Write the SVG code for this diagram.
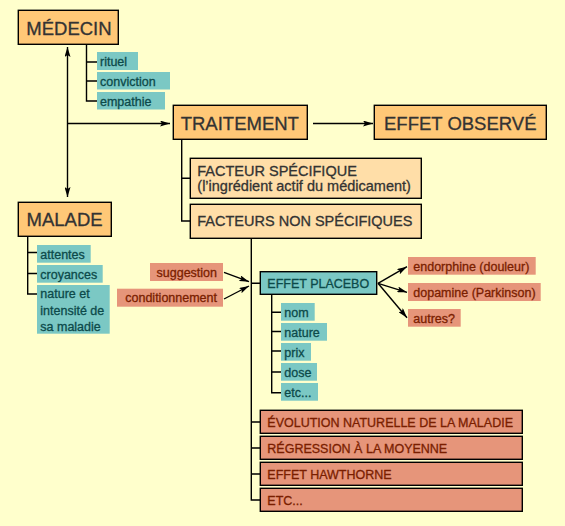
<svg xmlns="http://www.w3.org/2000/svg" width="565" height="526" viewBox="0 0 565 526">
<style>
text{font-family:"Liberation Sans",Arial,sans-serif;stroke-width:0.3}
.main{fill:#FFC877;stroke:#000;stroke-width:1.4}
.light{fill:#FFDEA8;stroke:#000;stroke-width:1.4}
.red{fill:#E6957A;stroke:#000;stroke-width:1.4}
.redl{fill:#E6957A}
.teal{fill:#7BC8C4}
.tealb{fill:#7BC8C4;stroke:#000;stroke-width:1.4}
.tm{font-size:18.5px;fill:#333;stroke:#333}
.tf{font-size:14.5px;fill:#333;stroke:#333}
.tr{font-size:12.5px;fill:#7A1E00;stroke:#7A1E00}
.tt{font-size:12.5px;fill:#0C4A4A;stroke:#0C4A4A}
.ln{fill:none;stroke:#000;stroke-width:1.4}
</style>
<defs>
<marker id="arr" viewBox="0 0 10 6" refX="10" refY="3" markerWidth="10" markerHeight="6" orient="auto-start-reverse" markerUnits="userSpaceOnUse">
<path d="M0,0 L10,3 L0,6 L2,3 z" fill="#000"/>
</marker>
</defs>
<rect width="565" height="526" fill="#FFFFCC"/>

<g id="connectors">
<line class="ln" x1="67.5" y1="47" x2="67.5" y2="197" marker-start="url(#arr)" marker-end="url(#arr)"/>
<line class="ln" x1="67.5" y1="123.5" x2="170" y2="123.5" marker-end="url(#arr)"/>
<line class="ln" x1="313" y1="123.5" x2="373" y2="123.5" marker-end="url(#arr)"/>
<path class="ln" d="M86.5,44 V101 H97 M86.5,62 H97 M86.5,81 H97"/>
<path class="ln" d="M181.7,139 V221 H190 M181.7,178.3 H190"/>
<path class="ln" d="M27.7,236 V294 H37 M27.7,252.5 H37 M27.7,273.5 H37"/>
<path class="ln" d="M251.3,238 V500 H260 M251.3,283.3 H260 M251.3,422 H260 M251.3,448 H260 M251.3,474 H260"/>
<path class="ln" d="M271.7,294 V392.7 H281 M271.7,312.3 H281 M271.7,331.5 H281 M271.7,351 H281 M271.7,372 H281"/>
<line class="ln" x1="224" y1="272.3" x2="249" y2="281.7" marker-end="url(#arr)"/>
<line class="ln" x1="224" y1="299" x2="249" y2="286" marker-end="url(#arr)"/>
<line class="ln" x1="378" y1="283.3" x2="407" y2="266.7" marker-end="url(#arr)"/>
<line class="ln" x1="378" y1="283.3" x2="407" y2="292.3" marker-end="url(#arr)"/>
<line class="ln" x1="378" y1="283.3" x2="407" y2="317.7" marker-end="url(#arr)"/>
</g>

<g id="medecin"><rect class="main" x="18.3" y="10.3" width="100" height="34"/><text class="tm" x="26.3" y="35">MÉDECIN</text></g>
<g id="rituel"><rect class="teal" x="97" y="52" width="41" height="18"/><text class="tt" x="100" y="66">rituel</text></g>
<g id="conviction"><rect class="teal" x="97" y="72" width="73" height="17.5"/><text class="tt" x="100" y="85.5">conviction</text></g>
<g id="empathie"><rect class="teal" x="97" y="92" width="68" height="17.5"/><text class="tt" x="100" y="105.5">empathie</text></g>

<g id="traitement"><rect class="main" x="173.3" y="105.3" width="134" height="34"/><text class="tm" x="180.7" y="129.5">TRAITEMENT</text></g>
<g id="effet-observe"><rect class="main" x="374.3" y="105.3" width="172" height="34"/><text class="tm" x="384" y="129.5">EFFET OBSERVÉ</text></g>

<g id="facteur-specifique"><rect class="light" x="190.3" y="158.3" width="231" height="40"/><text class="tf" x="197.3" y="176">FACTEUR SPÉCIFIQUE</text><text class="tf" x="197.3" y="191">(l’ingrédient actif du médicament)</text></g>
<g id="facteurs-non-specifiques"><rect class="light" x="190.3" y="204.3" width="231" height="34"/><text class="tf" x="197.3" y="226">FACTEURS NON SPÉCIFIQUES</text></g>

<g id="malade"><rect class="main" x="18.3" y="202.3" width="93" height="34"/><text class="tm" x="26.5" y="226">MALADE</text></g>
<g id="attentes"><rect class="teal" x="37" y="245" width="53.7" height="17.7"/><text class="tt" x="40.3" y="258.8">attentes</text></g>
<g id="croyances"><rect class="teal" x="37" y="265" width="65.7" height="17.7"/><text class="tt" x="40.3" y="278.8">croyances</text></g>
<g id="nature-intensite"><rect class="teal" x="37" y="285" width="72.7" height="48.7"/><text class="tt" x="40.3" y="298.3">nature et</text><text class="tt" x="40.3" y="314.5">intensité de</text><text class="tt" x="40.3" y="330.5">sa maladie</text></g>

<g id="suggestion"><rect class="redl" x="150" y="263" width="73" height="18"/><text class="tr" x="217" y="276.5" text-anchor="end">suggestion</text></g>
<g id="conditionnement"><rect class="redl" x="117" y="288.7" width="106" height="18"/><text class="tr" x="217" y="302.3" text-anchor="end">conditionnement</text></g>

<g id="effet-placebo"><rect class="tealb" x="260.3" y="271.7" width="116.4" height="22.6"/><text class="tt" x="267.3" y="288.3">EFFET PLACEBO</text></g>
<g id="nom"><rect class="teal" x="281" y="303" width="33.7" height="17.7"/><text class="tt" x="284.3" y="316.8">nom</text></g>
<g id="nature"><rect class="teal" x="281" y="323" width="46" height="17.7"/><text class="tt" x="284.3" y="336.8">nature</text></g>
<g id="prix"><rect class="teal" x="281" y="343" width="30" height="17.7"/><text class="tt" x="284.3" y="356.8">prix</text></g>
<g id="dose"><rect class="teal" x="281" y="363" width="36" height="17.7"/><text class="tt" x="284.3" y="376.8">dose</text></g>
<g id="etc-placebo"><rect class="teal" x="281" y="383" width="37" height="17.7"/><text class="tt" x="284.3" y="396.8">etc...</text></g>

<g id="endorphine"><rect class="redl" x="408" y="257" width="127.7" height="17.7"/><text class="tr" x="413.3" y="271">endorphine (douleur)</text></g>
<g id="dopamine"><rect class="redl" x="408" y="283" width="132.7" height="18"/><text class="tr" x="413.3" y="297">dopamine (Parkinson)</text></g>
<g id="autres"><rect class="redl" x="408" y="309" width="52.7" height="17.7"/><text class="tr" x="413.3" y="323">autres?</text></g>

<g id="evolution"><rect class="red" x="260.3" y="410.3" width="262" height="23"/><text class="tr" x="267.3" y="426.7">ÉVOLUTION NATURELLE DE LA MALADIE</text></g>
<g id="regression"><rect class="red" x="260.3" y="436.3" width="262" height="23"/><text class="tr" x="267.3" y="452.7">RÉGRESSION À LA MOYENNE</text></g>
<g id="hawthorne"><rect class="red" x="260.3" y="462.3" width="262" height="23"/><text class="tr" x="267.3" y="478.7">EFFET HAWTHORNE</text></g>
<g id="etc"><rect class="red" x="260.3" y="488.3" width="262" height="23"/><text class="tr" x="267.3" y="504.7">ETC...</text></g>
</svg>
